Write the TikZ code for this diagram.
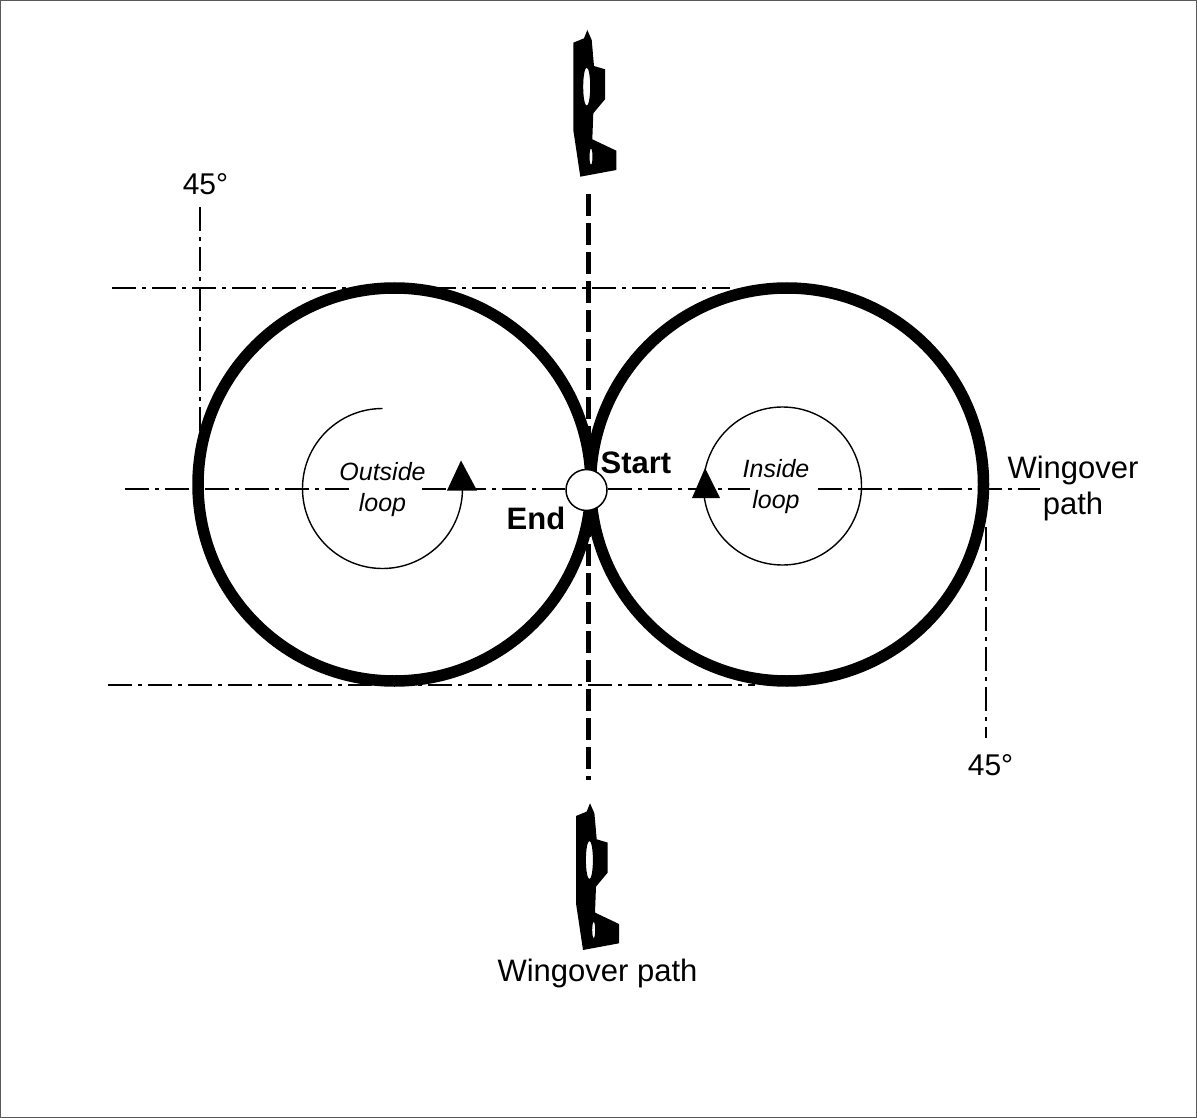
\documentclass[tikz,border=0pt]{standalone}
\usepackage{fontspec}
\setmainfont{Liberation Sans}
\tikzset{
  plane/.pic={
    \fill[even odd rule] (0,0) -- (4.4,10) -- (6.7,36) -- (17.7,39.3) -- (17.7,69.3) -- (6,83.3) -- (5,109.3) -- (29,120.7) -- (29,140) -- (-7,146.7) -- (-14,100) -- (-14,12.7) -- (-3.3,8.3) -- cycle
      (-0.6,56.7) ellipse (3.5 and 19) (3.7,126.7) ellipse (1.5 and 8);
  }
}
\begin{document}
\begin{tikzpicture}[x=1pt, y=-1pt, font=\fontsize{31}{36}\selectfont,
  centerline/.style={line width=2pt, dash pattern=on 24pt off 6pt on 4pt off 6pt},
  loopline/.style={draw, circle, line width=11.5pt, minimum size=393pt, inner sep=0pt},
  rotation/.style={line width=1.4pt},
  flyline/.style={line width=5pt, dash pattern=on 22pt off 7pt},
  textlabel/.style={align=center, inner sep=0pt},
  loopname/.style={align=center, inner sep=0pt, font=\fontsize{25}{31}\selectfont\itshape},
  pointname/.style={inner sep=0pt, font=\fontsize{31}{36}\selectfont\bfseries}]
\useasboundingbox (0,0) rectangle (1197,1118);
\draw[gray!70!black, line width=1pt] (0.5,0.5) rectangle (1196.5,1117.5);
% coordinates of the reference lines
\coordinate (topl) at (112,288);
\coordinate (topr) at (730,288);
\coordinate (botl) at (108,685);
\coordinate (botr) at (755,685);
\coordinate (midl) at (125,489);
\coordinate (midr) at (1040,489);
\coordinate (outl) at (349,489);
\coordinate (outr) at (422,489);
\coordinate (inl) at (750,489);
\coordinate (inr) at (818,489);
\coordinate (ltop) at (200,207);
\coordinate (lbot) at (200,432);
\coordinate (rtop) at (986,527);
\coordinate (rbot) at (986,738);
\coordinate (flytop) at (588,194);
\coordinate (flybot) at (588,780);
% loops
\node[loopline] (outer) at (394.5,484.5) {};
\node[loopline] (inner) at (787,484.5) {};
\node[draw, fill=white, circle, line width=1.5pt, minimum size=41pt, inner sep=0pt] (start) at (586.5,490) {};
\draw[centerline] (topl) -- (topr);
\draw[centerline] (botl) -- (botr);
\draw[centerline] (midl) -- (outl);
\draw[centerline] (outr) -- (outr -| start.west);
\draw[centerline] (midr -| start.east) -- (inl);
\draw[centerline] (inr) -- (midr);
\draw[centerline] (ltop) -- (lbot);
\draw[centerline] (rtop) -- (rbot);
\draw[flyline] (flytop) -- (flytop |- start.north);
\draw[flyline, dash phase=25pt] (flybot |- start.south) -- (flybot);
% rotation
\draw[rotation] (382.5,408.5) arc[start angle=-90, end angle=-360, radius=80];
\draw[rotation] (782.5,486) circle[radius=79];
\fill (461,460.5) -- (477,490.5) -- (447,490.5) -- cycle;
\fill (705,468) -- (720,498) -- (692,498) -- cycle;
% planes
\pic at (587.3,30) {plane};
\pic at (590,803.3) {plane};
% text
\node[textlabel, font=\fontsize{30}{36}\selectfont] (a1) at (205.5,184) {45°};
\node[textlabel, font=\fontsize{30}{36}\selectfont] (a2) at (990.5,765) {45°};
\node[textlabel] (w1) at (1073,488.5) {Wingover\\path};
\node[textlabel] (w2) at (597.5,973) {Wingover path};
\node[pointname] (s) at (636,463) {Start};
\node[pointname] (e) at (536,518) {End};
\node[loopname] (ol) at (382.5,489.5) {Outside\\loop};
\node[loopname] (il) at (776,487) {Inside\\loop};
\end{tikzpicture}
\end{document}
